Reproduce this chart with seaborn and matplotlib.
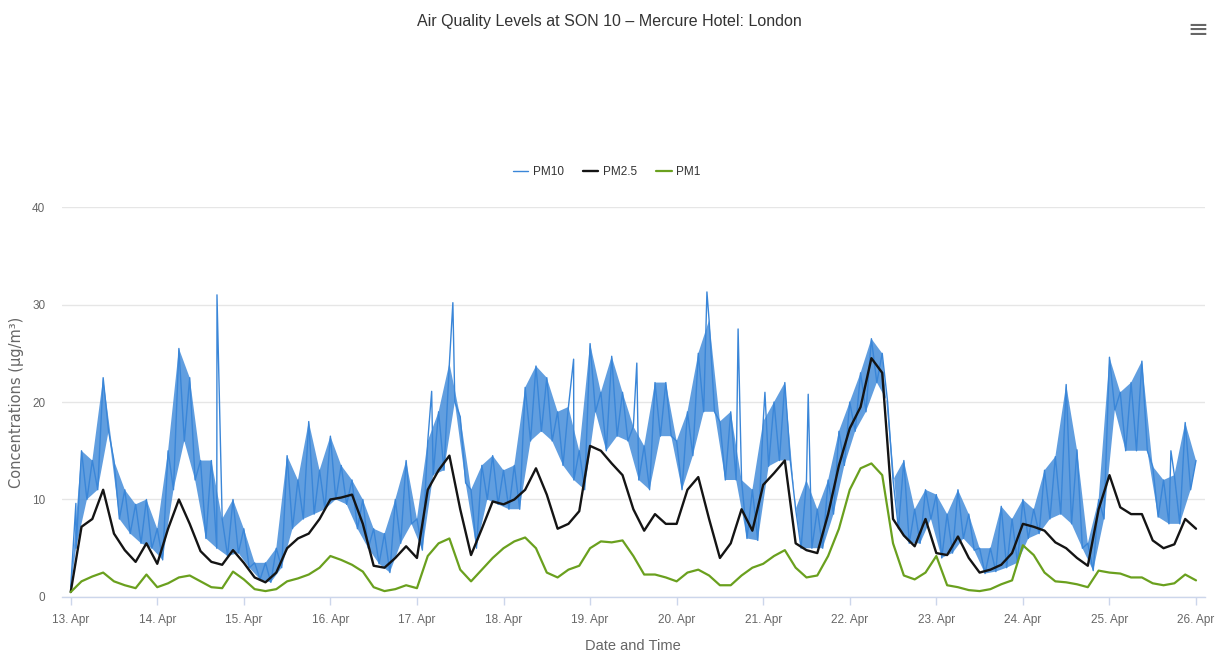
import numpy as np
import pandas as pd
import matplotlib
matplotlib.use("Agg")
import matplotlib.pyplot as plt
from matplotlib import font_manager
import seaborn as sns

# ---------------- data ----------------
start = pd.Timestamp("2021-04-13 00:00")
step_hours = 3  # sampling of the values below

pm25 = [0.5, 7.2, 8.0, 11.0, 6.5, 4.8, 3.6, 5.5,
        3.4, 7.0, 10.0, 7.5, 4.7, 3.6, 3.3, 4.8,
        3.5, 2.0, 1.5, 2.5, 5.0, 6.0, 6.5, 8.0,
        10.0, 10.2, 10.5, 7.5, 3.2, 3.0, 4.0, 5.2,
        4.0, 11.0, 13.0, 14.5, 9.0, 4.3, 7.0, 9.8,
        9.5, 10.0, 11.0, 13.2, 10.5, 7.0, 7.5, 8.8,
        15.5, 15.0, 13.7, 12.5, 9.0, 6.8, 8.5, 7.5,
        7.5, 11.0, 12.3, 8.0, 4.0, 5.5, 9.0, 6.8,
        11.5, 12.7, 14.0, 5.5, 4.8, 4.5, 8.5, 13.5,
        17.3, 19.5, 24.5, 23.0, 8.0, 6.3, 5.2, 8.0,
        4.5, 4.3, 6.2, 4.0, 2.5, 2.8, 3.3, 4.5,
        7.5, 7.2, 6.8, 5.6, 5.0, 4.0, 3.2, 9.0,
        12.5, 9.2, 8.5, 8.5, 5.8, 5.0, 5.4, 8.0,
        7.0]

pm1 = [0.5, 1.6, 2.1, 2.5, 1.6, 1.2, 0.9, 2.3,
       1.0, 1.4, 2.0, 2.2, 1.6, 1.0, 0.9, 2.6,
       1.8, 0.8, 0.6, 0.8, 1.6, 1.9, 2.3, 3.0,
       4.2, 3.8, 3.3, 2.6, 1.0, 0.6, 0.8, 1.2,
       0.9, 4.2, 5.5, 6.0, 2.8, 1.6, 2.8, 4.0,
       5.0, 5.7, 6.1, 5.0, 2.5, 2.0, 2.8, 3.2,
       5.0, 5.7, 5.6, 5.8, 4.2, 2.3, 2.3, 2.0,
       1.6, 2.5, 2.8, 2.2, 1.2, 1.2, 2.2, 3.0,
       3.4, 4.2, 4.8, 3.0, 2.0, 2.2, 4.2, 7.0,
       11.0, 13.2, 13.7, 12.5, 5.5, 2.2, 1.8, 2.5,
       4.2, 1.2, 1.0, 0.7, 0.6, 0.8, 1.3, 1.7,
       5.3, 4.3, 2.5, 1.6, 1.5, 1.3, 1.0, 2.7,
       2.5, 2.4, 2.0, 2.0, 1.4, 1.2, 1.4, 2.3,
       1.7]

# PM10 upper readings (on the 3-hour grid)
pm10_high = [1.0, 15.0, 14.0, 22.5, 14.0, 11.0, 9.5, 10.0,
             7.0, 15.0, 25.5, 22.5, 14.0, 14.0, 8.0, 10.0,
             7.0, 3.5, 3.5, 5.0, 14.5, 12.0, 18.0, 13.0,
             16.5, 13.5, 12.0, 10.0, 7.0, 6.5, 10.0, 14.0,
             8.0, 16.0, 19.0, 24.0, 18.5, 11.0, 13.5, 14.5,
             13.0, 13.5, 21.5, 23.7, 22.5, 19.0, 19.5, 15.0,
             26.0, 21.0, 24.7, 21.0, 17.5, 15.5, 22.0, 22.0,
             16.0, 19.0, 25.0, 28.4, 18.0, 19.0, 12.0, 11.0,
             18.0, 20.0, 22.0, 9.0, 12.0, 9.0, 12.0, 17.0,
             20.0, 23.0, 26.5, 25.0, 12.0, 14.0, 9.0, 11.0,
             10.5, 8.5, 11.0, 8.5, 5.0, 5.0, 9.3, 8.0,
             10.0, 9.0, 13.0, 14.4, 21.8, 15.1, 5.5, 10.0,
             24.6, 21.0, 22.0, 24.2, 13.4, 12.0, 12.5, 17.9,
             14.0]

# PM10 lower readings (halfway between grid points)
pm10_low = [5.0, 10.0, 11.0, 17.0, 8.0, 6.5, 5.5, 5.0,
            3.8, 11.0, 16.0, 12.0, 6.0, 5.0, 4.2, 4.5,
            3.0, 1.8, 1.5, 3.0, 7.0, 8.0, 8.5, 9.0,
            10.0, 9.5, 7.0, 5.0, 3.4, 2.5, 5.5, 7.5,
            4.8, 12.5, 13.0, 20.0, 11.7, 5.0, 10.0, 9.5,
            9.0, 9.0, 16.0, 17.0, 16.0, 13.5, 12.0, 11.0,
            19.0, 15.0, 16.5, 16.0, 12.0, 11.0, 16.5, 16.5,
            11.0, 14.5, 19.0, 19.0, 12.0, 12.0, 6.0, 5.8,
            13.4, 14.0, 14.0, 5.0, 5.0, 5.0, 8.5, 13.5,
            17.0, 19.0, 22.0, 20.0, 7.0, 5.5, 5.5, 8.0,
            4.0, 4.5, 6.0, 4.8, 2.4, 2.6, 3.0, 3.5,
            6.0, 6.5, 8.0, 8.5, 7.5, 5.0, 2.7, 8.0,
            19.2, 15.0, 15.0, 15.0, 8.2, 7.5, 7.5, 11.0]

# isolated PM10 spikes: (days after 13 Apr 00:00, value)
pm10_spike_days = [0.06, 1.69, 4.17, 4.415, 5.81, 6.54, 7.35, 7.71, 8.02, 8.52, 12.71]
pm10_spike_vals = [9.6, 31.0, 21.1, 30.2, 24.4, 24.0, 31.3, 27.5, 21.0, 20.8, 15.0]

tick_days = ["13. Apr", "14. Apr", "15. Apr", "16. Apr", "17. Apr", "18. Apr", "19. Apr",
             "20. Apr", "21. Apr", "22. Apr", "23. Apr", "24. Apr", "25. Apr", "26. Apr"]
y_ticks = [0, 10, 20, 30, 40]

# ---------------- build frames ----------------
grid = pd.date_range(start, periods=len(pm25), freq=f"{step_hours}h")
half = pd.Timedelta(hours=step_hours / 2)
low_times = grid[:len(pm10_low)] + half
df25 = pd.DataFrame({"time": grid, "value": pm25})
df1 = pd.DataFrame({"time": grid, "value": pm1})
df10 = pd.concat([
    pd.DataFrame({"time": grid, "value": pm10_high}),
    pd.DataFrame({"time": low_times, "value": pm10_low}),
    pd.DataFrame({"time": [start + pd.Timedelta(days=d) for d in pm10_spike_days],
                  "value": pm10_spike_vals}),
]).sort_values("time").reset_index(drop=True)

# ---------------- style ----------------
sns.set_theme(style="white")
avail = {f.name for f in font_manager.fontManager.ttflist}
base_font = "Liberation Sans" if "Liberation Sans" in avail else "DejaVu Sans"
plt.rcParams["font.family"] = [base_font, "DejaVu Sans"]

c10, c25, c1 = "#3a86d8", "#141414", "#6aa01e"
txt = "#666666"

fig = plt.figure(figsize=(12.26, 6.64), dpi=100)
ax = fig.add_axes([0.0506, 0.101, 0.932, 0.587])

# dense PM10 noise band: outline runs along the upper readings and back along the lower ones
band_x = np.concatenate([grid.values, low_times.values[::-1]])
band_y = np.concatenate([np.array(pm10_high), np.array(pm10_low)[::-1]])
ax.fill(band_x, band_y, color=c10, alpha=0.8, lw=0)
sns.lineplot(data=df10, x="time", y="value", ax=ax, color=c10, lw=1.0,
             estimator=None, sort=False, label="PM10")

sns.lineplot(data=df25, x="time", y="value", ax=ax, color=c25, lw=1.7,
             estimator=None, sort=False, label="PM2.5")
sns.lineplot(data=df1, x="time", y="value", ax=ax, color=c1, lw=1.6,
             estimator=None, sort=False, label="PM1")

ax.set_ylim(0, 40)
ax.set_xlim(start - pd.Timedelta(hours=2.4), start + pd.Timedelta(days=13.1))
ax.set_yticks(y_ticks)
ax.set_yticklabels([str(v) for v in y_ticks])
tick_pos = pd.date_range(start, periods=len(tick_days), freq="D")
ax.set_xticks(tick_pos)
ax.set_xticklabels(tick_days)

ax.grid(axis="y", color="#e6e6e6", lw=1)
ax.grid(axis="x", visible=False)
for s in ["left", "right", "top"]:
    ax.spines[s].set_visible(False)
ax.spines["bottom"].set_color("#ccd6eb")
ax.spines["bottom"].set_linewidth(1)
ax.tick_params(axis="y", length=0, pad=12, labelsize=8.5, labelcolor=txt)
ax.tick_params(axis="x", direction="out", length=6, width=1, color="#ccd6eb",
               pad=6, labelsize=8.5, labelcolor=txt, bottom=True)

ax.set_xlabel("Date and Time", fontsize=10.5, color=txt, labelpad=10)
ax.set_ylabel("Concentrations (µg/m³)", fontsize=10.5, color=txt,
              family=["DejaVu Sans"])
ax.yaxis.set_label_coords(-0.033, 0.5)

ax.legend_.remove()
handles, labels = ax.get_legend_handles_labels()
fig.legend(handles, labels, loc="center", bbox_to_anchor=(0.495, 0.741), ncol=3,
           frameon=False, fontsize=8.5, handlelength=1.3, columnspacing=1.6,
           labelcolor="#333333", handletextpad=0.4)

fig.text(0.497, 0.968, "Air Quality Levels at SON 10 – Mercure Hotel: London",
         ha="center", va="center", fontsize=11.5, color="#333333")
fig.text(0.977, 0.955, "≡", ha="center", va="center", fontsize=18, color="#666666",
         family=["DejaVu Sans"])

fig.savefig("out.png", dpi=100)
